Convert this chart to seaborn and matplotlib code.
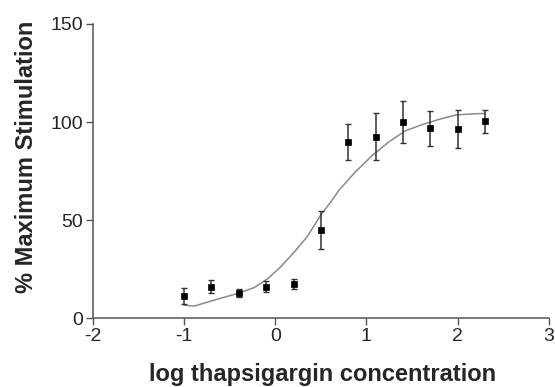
import matplotlib
matplotlib.use("Agg")
from matplotlib import pyplot as plt
import pandas as pd
import seaborn as sns

# ------------------------------- Data -------------------------------------------------------
log_conc = [-1.0, -0.7, -0.4, -0.1, 0.2, 0.5, 0.8, 1.1, 1.4, 1.7, 2.0, 2.3]
stimulation = [11.2, 16.0, 12.6, 16.0, 17.3, 44.9, 90.0, 92.5, 99.8, 96.8, 96.3, 100.3]
sem = [4.0, 3.4, 2.0, 2.7, 2.5, 9.6, 9.2, 12.0, 10.7, 9.0, 9.6, 6.0]

# Fitted dose-response curve
curve_x = [-1.0, -0.89, -0.67, -0.41, -0.23, -0.08, 0.06, 0.21, 0.35, 0.50, 0.61,
           0.70, 0.88, 1.07, 1.25, 1.43, 1.62, 1.80, 1.98, 2.15, 2.30]
curve_y = [6.6, 6.1, 9.2, 12.6, 15.6, 20.2, 26.2, 33.8, 41.5, 52.6, 59.3,
           65.3, 74.6, 83.2, 90.0, 95.6, 98.8, 101.4, 103.6, 104.1, 104.4]

x_ticks = [-2, -1, 0, 1, 2, 3]
y_ticks = [0, 50, 100, 150]

points = pd.DataFrame({"log_conc": log_conc, "stimulation": stimulation, "sem": sem})
curve = pd.DataFrame({"x": curve_x, "y": curve_y})

# ------------------------------- Plot --------------------------------
sns.set_style("ticks")
plt.rcParams["font.family"] = ["Liberation Sans", "DejaVu Sans"]

fig = plt.figure(figsize=(5.55, 3.87), dpi=100)
ax = fig.add_axes([0.1676, 0.178, 0.821, 0.76])

sns.lineplot(data=curve, x="x", y="y", ax=ax, color="#8a8a8a", linewidth=1.1)
ax.errorbar(points["log_conc"], points["stimulation"], yerr=points["sem"], fmt="none",
            ecolor="#333333", elinewidth=1.1, capsize=2.0, capthick=1.0)
sns.scatterplot(data=points, x="log_conc", y="stimulation", ax=ax, marker="s",
                s=14, color="black", edgecolor="black", linewidth=0.5, zorder=5)

ax.set_xlim(-2, 3)
ax.set_ylim(0, 150)
ax.set_xticks(x_ticks)
ax.set_yticks(y_ticks)
ax.set_xticklabels([str(t) for t in x_ticks])
ax.tick_params(labelsize=14, length=5, width=1, color="#555555", pad=2)

for side in ["top", "right"]:
    ax.spines[side].set_visible(False)
for side in ["left", "bottom"]:
    ax.spines[side].set_color("#555555")
    ax.spines[side].set_linewidth(1.1)

ax.set_xlabel("log thapsigargin concentration", fontsize=17, fontweight="bold")
ax.set_ylabel("% Maximum Stimulation", fontsize=17, fontweight="bold")
ax.xaxis.set_label_coords(0.504, -0.152)
ax.yaxis.set_label_coords(-0.12, 0.548)

fig.savefig("out.png", dpi=100)
